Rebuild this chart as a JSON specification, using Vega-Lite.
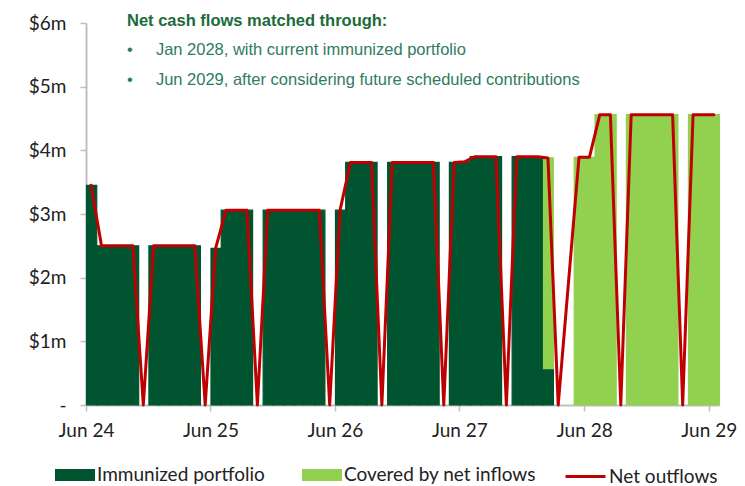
{
  "$schema": "https://vega.github.io/schema/vega-lite/v6.json",
  "width": 633,
  "height": 382,
  "autosize": {"type": "none"},
  "padding": {"left": 86, "top": 23, "right": 26, "bottom": 81},
  "background": "white",
  "title": {
    "text": "Net cash flows matched through:",
    "subtitle": ["•\u2003\u2009\u2009Jan 2028, with current immunized portfolio", "•\u2003\u2009\u2009Jun 2029, after considering future scheduled contributions"],
    "anchor": "start",
    "frame": "group",
    "dx": 41,
    "offset": -74,
    "font": "Liberation Sans",
    "fontSize": 16.5,
    "fontWeight": "bold",
    "color": "#1b6b3a",
    "subtitleFont": "Liberation Sans",
    "subtitleFontSize": 16.5,
    "subtitleColor": "#2f7b62",
    "subtitleLineHeight": 30,
    "subtitlePadding": 12
  },
  "data": {
    "values": [
      {"m": "2024-06-01", "imm": 3.45, "cov": 0, "out": 3.45},
      {"m": "2024-07-01", "imm": 2.5, "cov": 0, "out": 2.5},
      {"m": "2024-08-01", "imm": 2.5, "cov": 0, "out": 2.5},
      {"m": "2024-09-01", "imm": 2.5, "cov": 0, "out": 2.5},
      {"m": "2024-10-01", "imm": 2.5, "cov": 0, "out": 2.5},
      {"m": "2024-11-01", "imm": 0, "cov": 0, "out": 0},
      {"m": "2024-12-01", "imm": 2.5, "cov": 0, "out": 2.5},
      {"m": "2025-01-01", "imm": 2.5, "cov": 0, "out": 2.5},
      {"m": "2025-02-01", "imm": 2.5, "cov": 0, "out": 2.5},
      {"m": "2025-03-01", "imm": 2.5, "cov": 0, "out": 2.5},
      {"m": "2025-04-01", "imm": 2.5, "cov": 0, "out": 2.5},
      {"m": "2025-05-01", "imm": 0, "cov": 0, "out": 0},
      {"m": "2025-06-01", "imm": 2.46, "cov": 0, "out": 2.46},
      {"m": "2025-07-01", "imm": 3.06, "cov": 0, "out": 3.06},
      {"m": "2025-08-01", "imm": 3.06, "cov": 0, "out": 3.06},
      {"m": "2025-09-01", "imm": 3.06, "cov": 0, "out": 3.06},
      {"m": "2025-10-01", "imm": 0, "cov": 0, "out": 0},
      {"m": "2025-11-01", "imm": 3.06, "cov": 0, "out": 3.06},
      {"m": "2025-12-01", "imm": 3.06, "cov": 0, "out": 3.06},
      {"m": "2026-01-01", "imm": 3.06, "cov": 0, "out": 3.06},
      {"m": "2026-02-01", "imm": 3.06, "cov": 0, "out": 3.06},
      {"m": "2026-03-01", "imm": 3.06, "cov": 0, "out": 3.06},
      {"m": "2026-04-01", "imm": 3.06, "cov": 0, "out": 3.06},
      {"m": "2026-05-01", "imm": 0, "cov": 0, "out": 0},
      {"m": "2026-06-01", "imm": 3.06, "cov": 0, "out": 3.06},
      {"m": "2026-07-01", "imm": 3.81, "cov": 0, "out": 3.81},
      {"m": "2026-08-01", "imm": 3.81, "cov": 0, "out": 3.81},
      {"m": "2026-09-01", "imm": 3.81, "cov": 0, "out": 3.81},
      {"m": "2026-10-01", "imm": 0, "cov": 0, "out": 0},
      {"m": "2026-11-01", "imm": 3.81, "cov": 0, "out": 3.81},
      {"m": "2026-12-01", "imm": 3.81, "cov": 0, "out": 3.81},
      {"m": "2027-01-01", "imm": 3.81, "cov": 0, "out": 3.81},
      {"m": "2027-02-01", "imm": 3.81, "cov": 0, "out": 3.81},
      {"m": "2027-03-01", "imm": 3.81, "cov": 0, "out": 3.81},
      {"m": "2027-04-01", "imm": 0, "cov": 0, "out": 0},
      {"m": "2027-05-01", "imm": 3.81, "cov": 0, "out": 3.81},
      {"m": "2027-06-01", "imm": 3.82, "cov": 0, "out": 3.82},
      {"m": "2027-07-01", "imm": 3.9, "cov": 0, "out": 3.9},
      {"m": "2027-08-01", "imm": 3.9, "cov": 0, "out": 3.9},
      {"m": "2027-09-01", "imm": 3.9, "cov": 0, "out": 3.9},
      {"m": "2027-10-01", "imm": 0, "cov": 0, "out": 0},
      {"m": "2027-11-01", "imm": 3.9, "cov": 0, "out": 3.9},
      {"m": "2027-12-01", "imm": 3.9, "cov": 0, "out": 3.9},
      {"m": "2028-01-01", "imm": 3.9, "cov": 0, "out": 3.9},
      {"m": "2028-02-01", "imm": 0.57, "cov": 3.31, "out": 3.88},
      {"m": "2028-03-01", "imm": 0, "cov": 0, "out": 0},
      {"m": "2028-04-01", "imm": 0, "cov": 0, "out": null},
      {"m": "2028-05-01", "imm": 0, "cov": 3.89, "out": 3.89},
      {"m": "2028-06-01", "imm": 0, "cov": 3.89, "out": 3.89},
      {"m": "2028-07-01", "imm": 0, "cov": 4.56, "out": 4.56},
      {"m": "2028-08-01", "imm": 0, "cov": 4.56, "out": 4.56},
      {"m": "2028-09-01", "imm": 0, "cov": 0, "out": 0},
      {"m": "2028-10-01", "imm": 0, "cov": 4.56, "out": 4.56},
      {"m": "2028-11-01", "imm": 0, "cov": 4.56, "out": 4.56},
      {"m": "2028-12-01", "imm": 0, "cov": 4.56, "out": 4.56},
      {"m": "2029-01-01", "imm": 0, "cov": 4.56, "out": 4.56},
      {"m": "2029-02-01", "imm": 0, "cov": 4.56, "out": 4.56},
      {"m": "2029-03-01", "imm": 0, "cov": 0, "out": 0},
      {"m": "2029-04-01", "imm": 0, "cov": 4.56, "out": 4.56},
      {"m": "2029-05-01", "imm": 0, "cov": 4.56, "out": 4.56},
      {"m": "2029-06-01", "imm": 0, "cov": 4.56, "out": 4.56}
    ]
  },
  "layer": [
    {
      "transform": [
        {"fold": ["imm", "cov"], "as": ["key", "val"]},
        {"filter": "datum.val > 0"},
        {"lookup": "key", "from": {"data": {"values": [{"k": "imm", "name": "Immunized portfolio", "o": 1}, {"k": "cov", "name": "Covered by net inflows", "o": 2}]}, "key": "k", "fields": ["name", "o"]}}
      ],
      "mark": {"type": "bar", "binSpacing": 0, "strokeWidth": 1.2},
      "encoding": {
        "x": {"field": "m", "timeUnit": "yearmonth", "type": "temporal"},
        "y": {"field": "val", "type": "quantitative", "stack": "zero"},
        "order": {"field": "o", "type": "quantitative", "sort": "ascending"},
        "stroke": {
          "field": "name",
          "type": "nominal",
          "scale": {"domain": ["Immunized portfolio", "Covered by net inflows"], "range": ["#005430", "#92d050"]},
          "legend": null
        },
        "color": {
          "field": "name",
          "type": "nominal",
          "scale": {"domain": ["Immunized portfolio", "Covered by net inflows"], "range": ["#005430", "#92d050"]},
          "legend": {
            "orient": "none",
            "legendX": -31,
            "legendY": 432,
            "direction": "horizontal",
            "title": null,
            "labelFont": "Lato",
            "labelFontSize": 19,
            "labelColor": "#222222",
            "labelLimit": 400,
            "symbolType": "M-1,-0.3L1,-0.3L1,0.3L-1,0.3Z",
            "symbolSize": 1600,
            "symbolStrokeWidth": 0,
            "labelOffset": 2,
            "columnPadding": 37,
            "padding": 0
          }
        }
      }
    },
    {
      "transform": [{"filter": "datum.out != null"}],
      "mark": {"type": "line", "strokeWidth": 3, "strokeJoin": "round", "strokeCap": "round"},
      "encoding": {
        "x": {"field": "m", "timeUnit": "yearmonth", "type": "temporal", "bandPosition": 0.5},
        "y": {"field": "out", "type": "quantitative"},
        "stroke": {
          "datum": "Net outflows",
          "scale": {"domain": ["Net outflows"], "range": ["#c00000"]},
          "legend": {
            "orient": "none",
            "legendX": 478,
            "legendY": 432,
            "direction": "horizontal",
            "title": null,
            "labelFont": "Lato",
            "labelFontSize": 19,
            "labelColor": "#222222",
            "labelLimit": 400,
            "symbolType": "stroke",
            "symbolSize": 1600,
            "symbolStrokeWidth": 3,
            "labelOffset": 2,
            "padding": 0
          }
        }
      }
    }
  ],
  "resolve": {"scale": {"stroke": "independent"}, "legend": {"stroke": "independent"}},
  "encoding": {
    "x": {
      "scale": {"domain": [{"year": 2024, "month": 6, "date": 1}, {"year": 2029, "month": 7, "date": 1}]},
      "axis": {
        "title": null,
        "values": [{"year": 2024, "month": 6, "date": 1}, {"year": 2025, "month": 6, "date": 1}, {"year": 2026, "month": 6, "date": 1}, {"year": 2027, "month": 6, "date": 1}, {"year": 2028, "month": 6, "date": 1}, {"year": 2029, "month": 6, "date": 1}],
        "format": "%b %y",
        "grid": false,
        "labelFlush": false,
        "labelOverlap": false
      }
    },
    "y": {
      "scale": {"domain": [0, 6]},
      "axis": {
        "title": null,
        "values": [0, 1, 2, 3, 4, 5, 6],
        "labelExpr": "datum.value == 0 ? '-\u2002\u00a0' : '$' + datum.value + 'm'",
        "grid": false,
        "labelPadding": 14
      }
    }
  },
  "config": {
    "view": {"stroke": null},
    "axis": {
      "domainColor": "#bfbfbf",
      "domainWidth": 2,
      "tickColor": "#bfbfbf",
      "tickWidth": 1.5,
      "tickSize": 6,
      "labelFont": "Lato",
      "labelFontSize": 19,
      "labelColor": "#222222",
      "labelPadding": 10
    }
  }
}
